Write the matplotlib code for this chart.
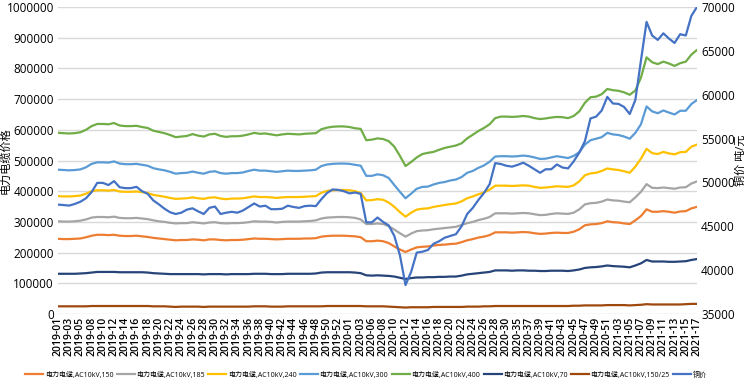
import matplotlib.pyplot as plt
import numpy as np
from matplotlib.ticker import StrMethodFormatter

plt.rcParams['font.family'] = ['Open Sans', 'Noto Sans CJK SC', 'DejaVu Sans']

# week labels (every other one is shown on the axis)
weeks_2019 = [1, 2, 3, 4, 5] + list(range(7, 54))
weeks_2020 = [1, 2, 3, 5] + list(range(6, 31)) + [33] + list(range(35, 52))
weeks_2021 = [1] + list(range(3, 18))
labels = ([f"2019-{w:02d}" for w in weeks_2019] +
          [f"2020-{w:02d}" for w in weeks_2020] +
          [f"2021-{w:02d}" for w in weeks_2021])

# cable prices, thousands
ac150 = [245, 244, 244, 245, 246, 250, 255, 258, 258, 257,
         258, 255, 254, 254, 255, 253, 251, 248, 246, 244,
         242, 240, 241, 241, 243, 242, 240, 243, 243, 241,
         240, 241, 241, 242, 244, 246, 245, 245, 244, 243,
         244, 245, 245, 245, 246, 246, 247, 252, 254, 255,
         255, 255, 254, 253, 250, 237, 237, 239, 237, 231,
         220, 210, 202, 210, 217, 219, 220, 223, 225, 226,
         228, 229, 234, 240, 244, 249, 252, 257, 266, 266,
         266, 265, 266, 267, 266, 263, 261, 262, 264, 265,
         264, 264, 268, 276, 289, 292, 293, 296, 302, 299,
         298, 295, 293, 305, 319, 341, 333, 333, 335, 333,
         330, 334, 335, 344, 349]
ac185 = [302, 301, 301, 302, 304, 308, 314, 316, 316, 315,
         317, 313, 312, 312, 313, 311, 309, 305, 302, 300,
         297, 295, 296, 296, 299, 297, 295, 298, 299, 296,
         295, 296, 296, 297, 299, 302, 301, 301, 300, 298,
         300, 301, 301, 301, 302, 303, 305, 311, 314, 315,
         316, 316, 315, 313, 308, 293, 293, 295, 293, 286,
         275, 263, 252, 262, 270, 272, 273, 276, 278, 280,
         282, 284, 290, 296, 300, 306, 310, 316, 328, 328,
         328, 327, 328, 329, 328, 325, 322, 323, 326, 328,
         327, 326, 330, 341, 357, 361, 362, 366, 373, 370,
         369, 366, 364, 380, 398, 423, 411, 410, 412, 410,
         408, 412, 413, 425, 432]
ac240 = [384, 383, 383, 384, 386, 392, 400, 403, 403, 402,
         404, 399, 398, 398, 399, 397, 394, 388, 385, 382,
         378, 375, 376, 377, 380, 377, 375, 379, 380, 376,
         374, 376, 376, 377, 380, 383, 381, 381, 380, 378,
         380, 381, 381, 381, 382, 383, 384, 395, 401, 403,
         404, 404, 403, 400, 394, 370, 371, 374, 372, 363,
         349, 332, 317, 330, 340, 343, 344, 349, 352, 355,
         358, 360, 367, 377, 383, 390, 396, 405, 418, 418,
         418, 417, 418, 419, 418, 414, 411, 412, 414, 416,
         415, 414, 419, 432, 452, 458, 460, 466, 474, 471,
         469, 465, 460, 480, 506, 538, 524, 521, 528, 523,
         520, 527, 528, 545, 552]
ac300 = [470, 469, 468, 469, 471, 478, 489, 494, 494, 493,
         497, 490, 488, 488, 489, 486, 483, 475, 471, 468,
         463, 457, 459, 460, 464, 460, 457, 463, 465, 459,
         457, 459, 459, 461, 466, 470, 467, 467, 465, 463,
         465, 467, 466, 466, 467, 468, 470, 482, 487, 489,
         490, 490, 489, 486, 483, 450, 450, 455, 452, 443,
         420, 398, 377, 392, 408, 414, 415, 422, 427, 430,
         435, 438, 446, 460, 466, 476, 484, 496, 513, 514,
         514, 513, 514, 516, 514, 510, 505, 506, 510, 514,
         511, 508, 515, 527, 552, 566, 571, 576, 590, 585,
         583, 578, 571, 590, 618, 676, 660, 654, 663, 656,
         650, 662, 662, 684, 697]
ac400 = [590, 589, 588, 589, 592, 600, 612, 619, 619, 618,
         622, 614, 612, 612, 613, 609, 606, 597, 593, 589,
         583, 576, 578, 580, 586, 581, 578, 585, 587, 580,
         577, 579, 579, 581, 585, 590, 587, 588, 585, 582,
         585, 587, 586, 585, 587, 588, 589, 602, 607, 610,
         611, 611, 609, 605, 603, 566, 568, 572, 570, 563,
         545, 515, 482, 495, 510, 521, 525, 528, 535, 541,
         545, 549, 556, 572, 584, 596, 606, 618, 638, 643,
         643, 642, 643, 645, 643, 638, 635, 637, 640, 642,
         641, 638, 645, 660, 688, 706, 708, 716, 733, 729,
         727, 722, 714, 728, 770, 836, 820, 814, 822, 816,
         808, 817, 822, 845, 860]
ac70 = [131, 131, 131, 131, 132, 133, 135, 137, 137, 137,
        137, 136, 136, 136, 136, 136, 135, 133, 132, 131,
        130, 130, 130, 130, 130, 130, 129, 130, 130, 130,
        129, 130, 130, 130, 130, 131, 131, 131, 130, 130,
        130, 131, 131, 131, 131, 131, 132, 135, 136, 136,
        136, 136, 136, 135, 133, 126, 125, 126, 125, 124,
        122, 118, 114, 117, 119, 119, 120, 120, 121, 121,
        122, 122, 125, 129, 131, 133, 135, 137, 142, 142,
        142, 141, 142, 142, 141, 141, 140, 140, 141, 141,
        141, 140, 142, 145, 150, 152, 153, 155, 158, 156,
        155, 154, 152, 158, 165, 176, 171, 171, 171, 170,
        170, 171, 172, 176, 179]
ac150_25 = [25, 25, 25, 25, 25, 25, 26, 26, 26, 26,
            26, 26, 26, 26, 26, 26, 26, 25, 25, 25,
            24, 23, 24, 24, 24, 24, 23, 24, 24, 24,
            24, 24, 24, 24, 24, 25, 25, 25, 24, 24,
            24, 25, 25, 25, 25, 25, 25, 25, 26, 26,
            26, 26, 26, 26, 26, 25, 25, 25, 25, 24,
            23, 22, 21, 22, 22, 22, 22, 23, 23, 23,
            23, 23, 23, 24, 24, 24, 25, 25, 26, 26,
            26, 26, 26, 26, 26, 26, 26, 26, 26, 26,
            26, 26, 27, 27, 28, 28, 28, 28, 29, 29,
            29, 29, 28, 29, 30, 32, 31, 31, 31, 31,
            31, 31, 32, 33, 33]
# copper price, yuan/ton
copper = [47470, 47420, 47360, 47550, 47800, 48200, 48900, 49950, 49950, 49700,
          50150, 49450, 49350, 49350, 49500, 49000, 48700, 47950, 47500, 47000,
          46600, 46400, 46550, 46900, 47050, 46700, 46400, 47100, 47250, 46400,
          46550, 46650, 46550, 46800, 47200, 47600, 47250, 47350, 46950, 46950,
          47000, 47350, 47200, 47100, 47300, 47350, 47300, 48100, 48800, 49200,
          49150, 49000, 48750, 48850, 48700, 45450, 45450, 46000, 45500, 45100,
          43900, 41700, 38300, 39800, 42000, 42100, 42300, 43000, 43300, 43700,
          43900, 44100, 45000, 46400, 47100, 48000, 48800, 49800, 52200, 52100,
          51900, 51800, 52000, 52250, 51900, 51500, 51100, 51500, 51500, 52050,
          51700, 51600, 52400, 53400, 54700, 57300, 57500, 58200, 59750, 59000,
          58950, 58600, 57800, 59400, 63900, 68300, 66750, 66250, 67000, 66400,
          65900, 66900, 66750, 69000, 70000]

cable_series = [
    ("电力电缆,AC10kV,150", ac150, "#ED7D31"),
    ("电力电缆,AC10kV,185", ac185, "#A5A5A5"),
    ("电力电缆,AC10kV,240", ac240, "#FFC000"),
    ("电力电缆,AC10kV,300", ac300, "#5B9BD5"),
    ("电力电缆,AC10kV,400", ac400, "#70AD47"),
    ("电力电缆,AC10kV,70", ac70, "#264478"),
    ("电力电缆,AC10kV,150/25", ac150_25, "#9E480E"),
]


def main():
    W, H = 747, 382
    fig = plt.figure(figsize=(W / 100, H / 100), dpi=100)
    ax = fig.add_axes([58 / W, 1 - 314 / H, (697 - 58) / W, (314 - 7) / H])
    ax2 = ax.twinx()

    x = np.arange(len(labels))
    handles = []
    for name, vals, color in cable_series:
        h, = ax.plot(x, np.array(vals) * 1000, color=color, lw=1.6, label=name)
        handles.append(h)
    h, = ax2.plot(x, copper, color="#4472C4", lw=1.6, label="铜价")
    handles.append(h)

    ax.set_xlim(0, len(labels) - 1)
    ax.set_ylim(0, 1000000)
    ax.set_yticks(np.arange(0, 1000001, 100000))
    ax.yaxis.set_major_formatter(StrMethodFormatter("{x:.0f}"))
    ax2.set_ylim(35000, 70000)
    ax2.set_yticks(np.arange(35000, 70001, 5000))

    ax.set_xticks(x[::2])
    ax.set_xticklabels(labels[::2], rotation=90, fontsize=7.5,
                       fontweight="semibold")
    ax.tick_params(axis="x", length=0, pad=2)
    ax.tick_params(axis="y", length=0, pad=3, labelsize=8.5)
    ax2.tick_params(axis="y", length=0, pad=3, labelsize=8.5)

    ax.yaxis.grid(True, color="#D9D9D9", lw=1)
    ax.set_axisbelow(True)
    for a in (ax, ax2):
        for s in a.spines.values():
            s.set_visible(False)

    fig.text(6 / W, 1 - 161 / H, "电力电缆价格", rotation=90, ha="center",
             va="center", fontsize=8)
    fig.text(741 / W, 1 - 160 / H, "铜价 吨/元", rotation=90, ha="center",
             va="center", fontsize=8)

    fig.legend(handles, [h.get_label() for h in handles], loc="center",
               bbox_to_anchor=(366 / W, 1 - 375 / H), ncol=8, frameon=False,
               fontsize=5, handlelength=2.6, handletextpad=0.2,
               columnspacing=0.5, borderaxespad=0, borderpad=0)

    fig.savefig("out.png", dpi=100)


if __name__ == "__main__":
    main()
